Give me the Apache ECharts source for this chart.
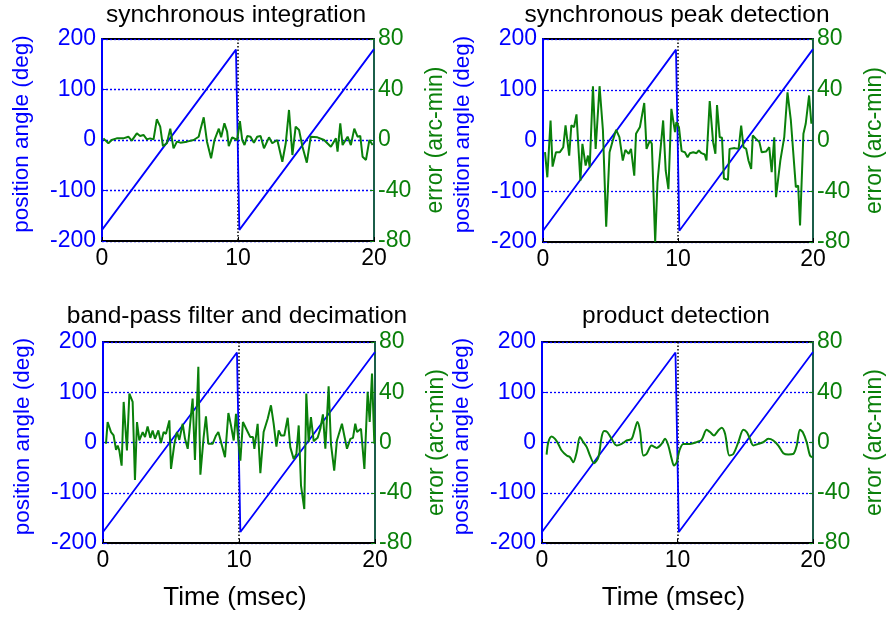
<!DOCTYPE html>
<html>
<head>
<meta charset="utf-8">
<script src="https://cdn.jsdelivr.net/npm/echarts@6/dist/echarts.min.js"></script>
<style>
html,body{margin:0;padding:0;background:#fff;}
#chart{width:887px;height:619px;}
</style>
</head>
<body>
<div id="chart"></div>
<script>
// ---------- data ----------
const panelTitles = ['synchronous integration', 'synchronous peak detection', 'band-pass filter and decimation', 'product detection'];
const xTicks = [0, 10, 20];
const angleTicks = [-200, -100, 0, 100, 200];
const errorTicks = [-80, -40, 0, 40, 80];

// position angle (deg): sawtooth wrap at 10 msec
const sawTime  = [0, 9.85, 10.1, 20];
const sawAngle = [-178, 179, -178, 180];

// error (arc-min) — synchronous integration
const errTimeA = [0.1,0.47,0.71,1.08,1.57,1.94,2.19,2.56,2.8,3.05,3.3,3.54,3.79,4.03,4.28,4.48,4.77,5.02,5.26,5.51,5.76,6.25,6.74,7.11,7.23,7.48,7.72,8.02,8.27,8.59,8.76,9.0,9.2,9.32,9.57,9.94,10.14,10.31,10.48,10.68,10.92,11.17,11.41,11.66,11.91,12.28,12.52,12.89,13.26,13.51,13.75,14.0,14.24,14.49,14.74,15.06,15.35,15.84,16.33,16.83,17.2,17.32,17.52,17.69,18.06,18.3,18.55,18.79,18.99,19.16,19.41,19.66,19.9];
const errA     = [1.3,-2.6,0,1.3,1.3,2.6,-0.5,5.3,3.2,4.0,0.5,1.3,0.5,16.4,10.6,-4.8,-2.6,9.0,-6.6,-1.3,-2.1,-1.3,0,2.6,7.9,18.0,-1.3,-14.5,0,9.0,2.1,13.2,6.6,-4.8,2.1,0,15.0,0,-4.0,3.2,2.6,-2.1,2.6,3.2,-6.6,2.1,-2.6,0,-17.2,-2.6,23.8,-11.9,10.6,7.9,-5.3,-18.0,2.6,2.1,0,-5.3,1.3,-9.2,13.2,-4.0,2.6,-4.0,9.0,2.6,3.2,-13.2,-15.8,0,-4.0];

// error — synchronous peak detection
const errTimeB = [0.15,0.32,0.56,0.71,0.96,1.25,1.5,1.67,1.94,2.1,2.3,2.48,2.77,2.92,3.16,3.33,3.46,3.7,3.9,4.19,4.44,4.68,4.93,5.17,5.42,5.66,5.91,6.1,6.35,6.52,6.76,6.89,7.18,7.5,7.67,7.92,8.06,8.31,8.48,8.6,8.9,9.09,9.29,9.51,9.78,9.88,
                  10.07,10.27,10.51,10.71,10.88,11.13,11.37,11.54,11.74,11.98,12.11,12.35,12.6,12.77,12.89,13.09,13.26,13.4,13.7,13.82,14.19,14.49,14.68,14.85,15.05,15.22,15.42,15.54,15.78,16.03,16.2,16.52,16.76,16.94,17.13,17.26,17.58,17.87,18.11,18.36,18.73,18.9,19.04,19.29,19.46,19.71,19.88];
const errB     = [-9.2,-29,15.8,-20.6,-9.2,-9.2,-5.3,11.9,-11.9,11.9,10.6,20.6,-31.7,-2.6,-19.8,-11.9,-21.1,42.8,-6.6,42.8,7.9,-68,-9.2,0,8.4,2.6,-15.8,-7.4,-10.6,-6.6,-27.7,5.3,10.6,29.6,-6.6,0,-2.6,-80,-33,-33,15.8,-23.8,-38.3,25,6.6,14.5,
                  10.5,-8.4,-9.2,-13.2,-10,-9.2,-10,-7.9,-10,-11,-15.8,31,-1.3,-10.5,28,2.6,2.1,-30,-31,-6.6,-6,-6.6,11.8,-5.3,-6.6,-15.8,-22.4,3.9,1.3,-1.3,-9.2,-8.7,-5.3,-25,2.6,-44.7,-15.8,2.6,38,15.8,-36.8,-35.5,-67,5.3,13.2,35.5,13.2];

// error — band-pass filter and decimation
const errTimeC = [0.22,0.34,0.59,0.78,0.96,1.08,1.2,1.37,1.52,1.76,1.94,2.18,2.35,2.5,2.67,2.92,3.09,3.28,3.48,3.65,3.82,4.07,4.26,4.46,4.63,4.88,5.0,5.25,5.44,5.61,5.86,6.03,6.23,6.42,6.59,6.76,7.01,7.16,7.4,7.57,7.74,8.06,8.31,8.48,8.68,8.97,9.22,9.41,9.61,9.78,9.95,10.1,
                  10.29,10.59,10.83,11.03,11.13,11.37,11.57,11.81,12.11,12.35,12.55,12.75,12.92,13.09,13.33,13.58,13.77,14.02,14.22,14.39,14.56,14.8,14.95,15.12,15.29,15.49,15.78,15.98,16.17,16.35,16.59,16.76,17.0,17.2,17.57,17.74,17.94,18.19,18.38,18.55,18.68,18.97,19.22,19.46,19.61,19.78,19.95];
const errC     = [-1,16.3,8.3,5.6,-5.9,-2.4,-6.4,-18.4,32.3,-6.4,38.9,32.3,-29.9,16.3,1.6,8.3,4.3,12.8,3.7,9.6,2.9,9.6,-0.5,8.3,6.9,17.6,-21,-1,8.3,2.1,14.9,2.9,-5,16.3,34.9,-13.9,60.3,-25.6,4.3,20.8,-1,-1,5.6,8.3,0.3,-11.7,23.5,13.6,1.6,22.9,1.6,-14.4,
                  16.3,9.6,4.3,4.3,-5,14.9,-24.5,8.3,18.9,29.6,14.9,-3.2,9.6,5.6,5.6,19.7,-3.7,-13.1,-9.1,13.6,-34.4,-53,38.9,0.3,20.3,1.1,3.7,10.9,22.4,-5,44.8,-1,-22.4,1.6,14.9,5.6,-5,2.9,3.7,14.9,8.3,10.9,-21,40.3,16.3,54.9,-1];

// error — product detection
const errTimeD = [0.34,0.47,0.71,0.96,1.2,1.45,1.82,2.07,2.31,2.56,2.8,3.05,3.3,3.54,3.84,4.16,4.4,4.58,4.82,5.14,5.51,5.88,6.25,6.62,6.86,7.04,7.23,7.48,7.72,8.09,8.46,8.83,9.08,9.32,9.57,9.74,9.94,10.14,10.43,10.92,11.41,11.78,12.15,12.4,12.69,13.01,13.26,13.51,13.83,14.12,14.49,14.86,15.11,15.35,15.6,15.97,16.33,16.7,17.07,17.44,17.81,18.18,18.55,18.8,19.04,19.24,19.53,19.78,19.98];
const errD     = [-9.6,0.3,4.8,2.9,-1.1,-6.4,-10.4,-11.7,-15.7,-7.7,4.3,0.3,-3.7,-10.4,-16.5,-11.7,4.3,9.1,8.3,2.9,-2.4,-1.1,1.6,2.9,10.9,16.3,9.6,-10.4,-9.1,-2.4,-4.3,-1.1,2.9,-2.4,-13.1,-18.4,-15.7,-6.4,-1.1,-1.1,0.3,2.1,10.1,8.3,5.6,9.6,11.7,6.9,-10.4,-9.1,0.3,10.1,8.3,2.9,-2.4,-1.1,0.3,2.9,1.6,-2.4,-8.5,-9.6,-9.1,-2.4,10.1,8.3,0.3,-10.4,-11.7];

// ---------- layout / style ----------
const FONT = '"Liberation Sans", Arial, sans-serif';
const BLUE = '#0000ff';
const GREEN = '#0a800a';
const RAXIS = '#1b5e4a';
const grids = [
  {left: 102, top: 39, width: 272, height: 202},
  {left: 543, top: 39, width: 272, height: 203},
  {left: 103, top: 342, width: 272, height: 201},
  {left: 542, top: 342, width: 272, height: 201}
];
const errTimes = [errTimeA, errTimeB, errTimeC, errTimeD];
const errVals = [errA, errB, errC, errD];

const pair = (xs, ys) => xs.map((x, i) => [x, ys[i]]);

const option = {
  animation: false,
  backgroundColor: '#fff',
  textStyle: {fontFamily: FONT},
  title: [], grid: [], xAxis: [], yAxis: [], series: []
};

grids.forEach((g, i) => {
  option.grid.push(Object.assign({show: true, borderColor: '#000', borderWidth: 2, backgroundColor: '#fff', containLabel: false}, g));
  option.title.push({
    text: panelTitles[i],
    left: g.left + g.width / 2 - 7,
    top: i < 2 ? -2 : 299,
    textAlign: 'center',
    textStyle: {fontSize: 24.5, fontWeight: 'normal', color: '#000', fontFamily: FONT}
  });
  option.xAxis.push({
    gridIndex: i, type: 'value',
    min: xTicks[0], max: xTicks[xTicks.length - 1], interval: xTicks[1] - xTicks[0],
    axisLine: {show: true, onZero: false, lineStyle: {color: '#000', width: 2}},
    axisTick: {show: true, inside: true, length: 4, lineStyle: {color: '#000'}},
    axisLabel: {color: '#000', fontSize: 23, margin: 6, fontFamily: FONT},
    splitLine: {show: true, lineStyle: {color: '#000', type: [1.5, 2], width: 1.5}},
    name: i >= 2 ? 'Time (msec)' : '',
    nameLocation: 'middle', nameGap: 42,
    nameTextStyle: {color: '#000', fontSize: 26, fontFamily: FONT, padding: [0, 8, 0, 0]}
  });
  option.yAxis.push({
    gridIndex: i, type: 'value', position: 'left',
    min: angleTicks[0], max: angleTicks[angleTicks.length - 1], interval: angleTicks[1] - angleTicks[0],
    axisLine: {show: true, onZero: false, lineStyle: {color: BLUE, width: 2}},
    axisTick: {show: true, inside: true, length: 4, lineStyle: {color: BLUE}},
    axisLabel: {color: BLUE, fontSize: 23, margin: 6, fontFamily: FONT},
    splitLine: {show: true, lineStyle: {color: BLUE, type: [2, 2], width: 1.3}},
    name: 'position angle (deg)', nameLocation: 'middle', nameGap: 69, nameRotate: 90,
    nameTextStyle: {color: BLUE, fontSize: 22.5, fontFamily: FONT, padding: [0, 0, 0, 12]}
  });
  option.yAxis.push({
    gridIndex: i, type: 'value', position: 'right',
    min: errorTicks[0], max: errorTicks[errorTicks.length - 1], interval: errorTicks[1] - errorTicks[0],
    axisLine: {show: true, onZero: false, lineStyle: {color: RAXIS, width: 2}},
    axisTick: {show: true, inside: true, length: 4, lineStyle: {color: GREEN}},
    axisLabel: {color: GREEN, fontSize: 23, margin: 4, fontFamily: FONT},
    splitLine: {show: false},
    name: 'error (arc-min)', nameLocation: 'middle', nameGap: 50, nameRotate: 90,
    nameTextStyle: {color: GREEN, fontSize: 23, fontFamily: FONT}
  });
  option.series.push({
    type: 'line', xAxisIndex: i, yAxisIndex: 2 * i,
    data: pair(sawTime, sawAngle), showSymbol: false, symbol: 'none',
    lineStyle: {color: BLUE, width: 1.8}, z: 2
  });
  option.series.push({
    type: 'line', xAxisIndex: i, yAxisIndex: 2 * i + 1,
    data: pair(errTimes[i], errVals[i]), showSymbol: false, symbol: 'none',
    smooth: i === 3 ? 0.3 : false,
    lineStyle: {color: GREEN, width: 2}, z: 3
  });
});

const chart = echarts.init(document.getElementById('chart'), null, {renderer: 'canvas'});
chart.setOption(option);
</script>
</body>
</html>
